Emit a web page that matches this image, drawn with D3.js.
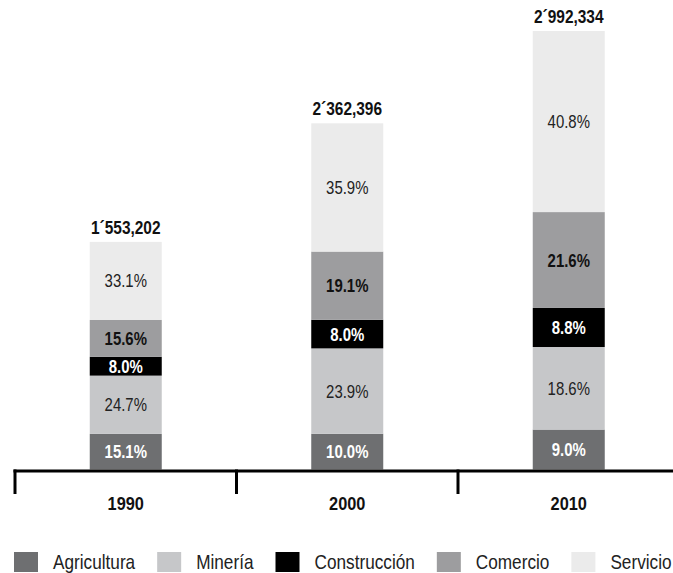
<!DOCTYPE html>
<html>
<head>
<meta charset="utf-8">
<script src="https://cdn.jsdelivr.net/npm/d3@7/dist/d3.min.js"></script>
<style>
  html, body { margin: 0; padding: 0; background: #fff; }
  svg { display: block; }
  text { font-family: "Liberation Sans", Arial, sans-serif; }
</style>
</head>
<body>
<svg id="chart" width="673" height="573"></svg>
<script>
// ---- data ----
const years = ["1990", "2000", "2010"];
const totals = [1553202, 2362396, 2992334];
const totalLabels = ["1´553,202", "2´362,396", "2´992,334"];
const sectors = ["Agricultura", "Minería", "Construcción", "Comercio", "Servicio"];
const agricultura = [15.1, 10.0, 9.0];
const mineria = [24.7, 23.9, 18.6];
const construccion = [8.0, 8.0, 8.8];
const comercio = [15.6, 19.1, 21.6];
const servicio = [33.1, 35.9, 40.8];

const seriesValues = [agricultura, mineria, construccion, comercio, servicio];
const colors = ["#6e6f71", "#c6c7c9", "#000000", "#9d9d9f", "#ebebeb"];
const labelFill = ["#ffffff", "#222222", "#ffffff", "#111111", "#222222"];
const labelWeight = ["bold", "normal", "bold", "bold", "normal"];

// ---- layout ----
const svg = d3.select("#chart");
const baseline = 469.5;
const x = d3.scaleBand().domain(years).range([15, 679.5]).paddingInner(0).paddingOuter(0);
const barW = 72;
const y = d3.scaleLinear().domain([0, d3.max(totals)]).range([baseline, 31]);

// horizontal condensation to mimic a narrow typeface
function place(sel, fx, fy, sx) {
  return sel.attr("x", 0).attr("y", 0)
    .attr("transform", (d, i) => `translate(${fx(d, i)},${fy(d, i)}) scale(${sx},1)`);
}

// build stacked rows (shares normalized to full bar height)
const rows = years.map((yr, i) => {
  const row = { year: yr, total: totals[i] };
  const sum = d3.sum(seriesValues, s => s[i]);
  sectors.forEach((s, k) => { row[s] = seriesValues[k][i] / sum * totals[i]; });
  return row;
});
const stack = d3.stack().keys(sectors)(rows);

const g = svg.append("g");
stack.forEach((layer, k) => {
  const lg = g.append("g");
  lg.selectAll("rect").data(layer).join("rect")
    .attr("x", d => x(d.data.year) + x.bandwidth() / 2 - barW / 2)
    .attr("width", barW)
    .attr("y", d => y(d[1]))
    .attr("height", d => y(d[0]) - y(d[1]))
    .attr("fill", colors[k]);
  place(lg.selectAll("text").data(layer).join("text"),
        d => x(d.data.year) + x.bandwidth() / 2,
        d => (y(d[0]) + y(d[1])) / 2, 0.83)
    .attr("dy", "0.36em")
    .attr("text-anchor", "middle")
    .attr("font-size", 18)
    .attr("font-weight", labelWeight[k])
    .attr("fill", labelFill[k])
    .text((d, i) => seriesValues[k][i].toFixed(1) + "%");
});

// totals above bars
place(g.selectAll("text.total").data(years).join("text").attr("class", "total"),
      d => x(d) + x.bandwidth() / 2,
      (d, i) => y(totals[i]) - 8, 0.86)
  .attr("text-anchor", "middle")
  .attr("font-size", 18)
  .attr("font-weight", "bold")
  .attr("fill", "#111")
  .text((d, i) => totalLabels[i]);

// axis
const axisY = 471;
svg.append("line")
  .attr("x1", 13.5).attr("x2", 673)
  .attr("y1", axisY).attr("y2", axisY)
  .attr("stroke", "#000").attr("stroke-width", 3);
svg.selectAll("line.tick").data(years).join("line")
  .attr("class", "tick")
  .attr("x1", d => x(d)).attr("x2", d => x(d))
  .attr("y1", axisY - 1.5).attr("y2", 494)
  .attr("stroke", "#000").attr("stroke-width", 3);
place(svg.selectAll("text.year").data(years).join("text").attr("class", "year"),
      d => x(d) + x.bandwidth() / 2,
      () => 510, 0.86)
  .attr("text-anchor", "middle")
  .attr("font-size", 19)
  .attr("font-weight", "bold")
  .attr("fill", "#111")
  .text(d => d);

// legend
const LSX = 0.86;
const legend = svg.append("g");
let lx = 14;
sectors.forEach((s, k) => {
  legend.append("rect")
    .attr("x", lx).attr("y", 552)
    .attr("width", 24).attr("height", 20)
    .attr("fill", colors[k]);
  const tx = lx + 39;
  const t = legend.append("text")
    .attr("x", 0).attr("y", 0)
    .attr("transform", `translate(${tx},568.5) scale(${LSX},1)`)
    .attr("font-size", 20)
    .attr("fill", "#222")
    .text(s);
  lx = tx + t.node().getComputedTextLength() * LSX + 22;
});
</script>
</body>
</html>
